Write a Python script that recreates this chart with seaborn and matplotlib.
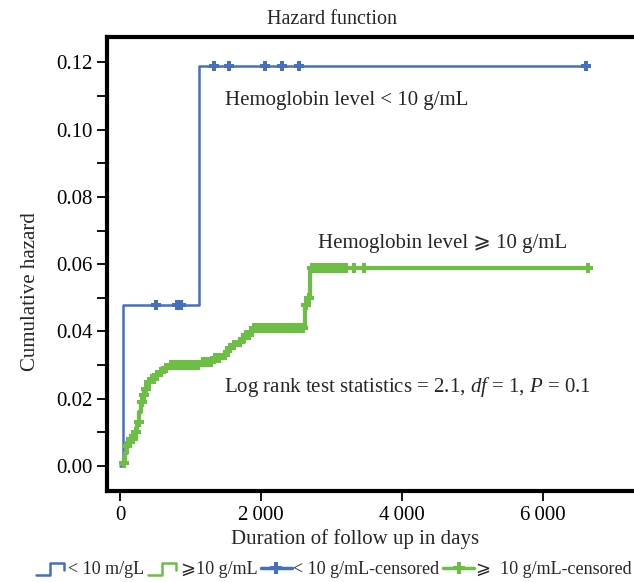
import numpy as np
import pandas as pd
import seaborn as sns
import matplotlib
matplotlib.use("Agg")
import matplotlib.pyplot as plt
from matplotlib.lines import Line2D
from matplotlib.legend_handler import HandlerBase
from matplotlib.ticker import MultipleLocator, FuncFormatter

# hemoglobin < 10 g/mL: step points of the cumulative hazard
low_time = [0, 40, 1120, 6620]
low_haz = [0.0, 0.048, 0.119, 0.119]
low_cens_time = [500, 800, 860, 1330, 1540, 2060, 2300, 2540, 6620]

# hemoglobin >= 10 g/mL
high_time = [40, 60, 90, 140, 200, 240, 270, 290, 310, 340, 380, 430, 500, 560,
             620, 700, 1150, 1300, 1450, 1520, 1600, 1680, 1760, 1850, 2620,
             2660, 2700, 6640]
high_haz = [0.001, 0.004, 0.006, 0.008, 0.010, 0.013, 0.016, 0.019, 0.021,
            0.023, 0.025, 0.026, 0.027, 0.028, 0.029, 0.030, 0.031, 0.032,
            0.033, 0.035, 0.036, 0.037, 0.039, 0.041, 0.048, 0.050, 0.059,
            0.059]
high_cens_time = [45, 100, 150, 180, 220, 260, 300, 330, 360, 400, 450, 480,
                  520, 580, 650, 720, 760, 800, 850, 900, 950, 1000, 1050,
                  1100, 1180, 1230, 1280, 1350, 1400, 1480, 1550, 1620, 1700,
                  1780, 1820, 1900, 1950, 2000, 2050, 2100, 2150, 2200, 2250,
                  2300, 2350, 2400, 2450, 2500, 2550, 2600, 2640, 2680, 2720,
                  2760, 2800, 2840, 2880, 2920, 2960, 3000, 3040, 3080, 3120,
                  3160, 3200, 3320, 3460, 6640]

x_ticks = [0, 2000, 4000, 6000]
x_labels = ["0", "2\u2009000", "4\u2009000", "6\u2009000"]

BLUE = "#4470C0"
GREEN = "#6DBE45"


def step_value(times, values, t):
    idx = np.searchsorted(times, t, side="right") - 1
    return np.asarray(values)[np.clip(idx, 0, None)]


class HandlerStep(HandlerBase):
    def create_artists(self, legend, orig_handle, xdescent, ydescent,
                       width, height, fontsize, trans):
        x0, y0 = -xdescent, -ydescent
        xs = [x0, x0 + 0.45 * width, x0 + 0.45 * width, x0 + 0.9 * width, x0 + 0.9 * width]
        ys = [y0, y0, y0 + 0.9 * height, y0 + 0.9 * height, y0 + 0.35 * height]
        ln = Line2D(xs, ys, color=orig_handle.get_color(), lw=1.8, transform=trans)
        return [ln]


sns.set_style("ticks")
plt.rcParams["font.family"] = ["Liberation Serif", "DejaVu Sans"]
plt.rcParams["mathtext.fontset"] = "custom"
plt.rcParams["mathtext.it"] = "Liberation Serif:italic"
plt.rcParams["mathtext.rm"] = "Liberation Serif"

fig = plt.figure(figsize=(6.34, 5.82), dpi=100)
# the frame runs past the right edge of the picture
ax = fig.add_axes([107 / 634, 1 - 491 / 582, 573 / 634, 454 / 582])

low_df = pd.DataFrame({"t": low_time, "h": low_haz})
high_df = pd.DataFrame({"t": high_time, "h": high_haz})
sns.lineplot(data=low_df, x="t", y="h", ax=ax, color=BLUE, lw=1.8,
             drawstyle="steps-post", estimator=None, sort=False)
sns.lineplot(data=high_df, x="t", y="h", ax=ax, color=GREEN, lw=3,
             drawstyle="steps-post", estimator=None, sort=False)

low_cens = pd.DataFrame({"t": low_cens_time,
                         "h": step_value(low_time, low_haz, low_cens_time)})
high_cens = pd.DataFrame({"t": high_cens_time,
                          "h": step_value(high_time, high_haz, high_cens_time)})
sns.scatterplot(data=low_cens, x="t", y="h", ax=ax, color=BLUE, marker="P",
                s=45, linewidth=0, zorder=3)
sns.scatterplot(data=high_cens, x="t", y="h", ax=ax, color=GREEN, marker="P",
                s=55, linewidth=0, zorder=3)

ax.set_xlim(-190, -190 + 7570 * 573 / 533)
ax.set_ylim(-0.0074, 0.1275)
ax.set_xticks(x_ticks)
ax.set_xticklabels(x_labels)
ax.yaxis.set_major_locator(MultipleLocator(0.01))
ax.yaxis.set_major_formatter(FuncFormatter(
    lambda v, p: f"{v:.2f}" if round(v * 100) % 2 == 0 else ""))
ax.tick_params(axis="both", direction="out", length=7, width=1.3,
               labelsize=15, colors="black")
for sp in ax.spines.values():
    sp.set_linewidth(3)
    sp.set_color("black")

ax.set_xlabel("Duration of follow up in days", fontsize=15)
ax.set_ylabel("Cumulative hazard", fontsize=15)
ax.xaxis.set_label_coords((355 - 107) / 573, -0.085)
ax.yaxis.set_label_coords(-67 / 573, 0.44)

ax.text(1490, 0.1085, "Hemoglobin level < 10 g/mL", fontsize=15, va="center")
ax.text(2810, 0.066, "Hemoglobin level \u2A7E 10 g/mL", fontsize=15, va="center")
ax.text(1475, 0.0235,
        r"Log rank test statistics = 2.1, $\mathit{df}$ = 1, $\mathit{P}$ = 0.1",
        fontsize=15, va="center")

fig.text(332 / 634, 1 - 20 / 582, "Hazard function", fontsize=14.5,
         ha="center", va="center")

handles = [
    Line2D([], [], color=BLUE),
    Line2D([], [], color=GREEN),
    Line2D([], [], color=BLUE, lw=2.5, marker="P", markersize=9, markeredgewidth=0),
    Line2D([], [], color=GREEN, lw=2.5, marker="P", markersize=9, markeredgewidth=0),
]
labels = ["< 10 m/gL", "\u2A7E10 g/mL", "< 10 g/mL-censored", "\u2A7E  10 g/mL-censored"]
fig.legend(handles, labels, loc="center left", bbox_to_anchor=(36 / 634, 1 - 570 / 582),
           ncol=4, frameon=False, fontsize=13, handlelength=1.7, handletextpad=0.1,
           columnspacing=0.2, borderaxespad=0, borderpad=0,
           handler_map={handles[0]: HandlerStep(), handles[1]: HandlerStep()})

if ax.get_legend() is not None:
    ax.get_legend().remove()

fig.savefig("out.png", dpi=100)
